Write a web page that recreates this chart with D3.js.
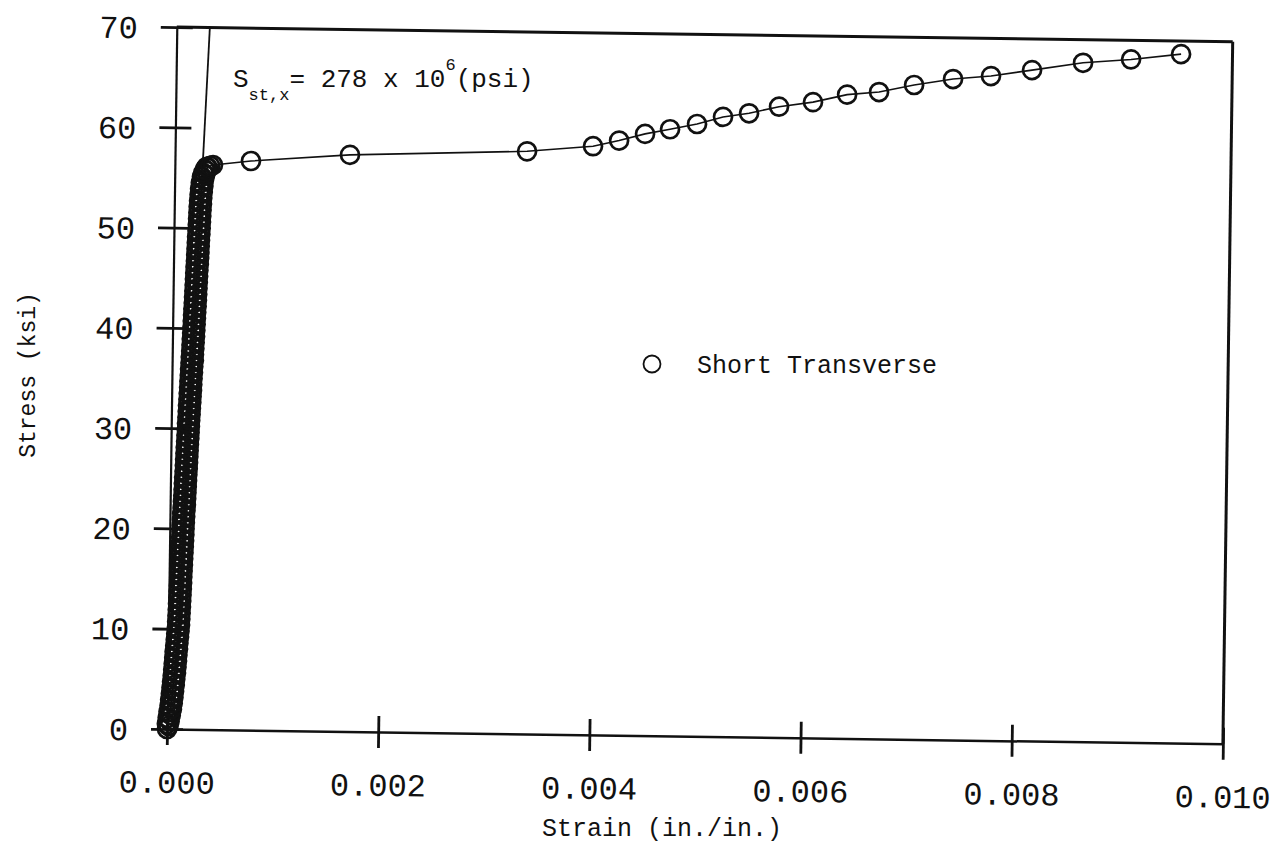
<!DOCTYPE html>
<html><head><meta charset="utf-8">
<script src="https://cdn.jsdelivr.net/npm/d3@7"></script>
<style>
body{margin:0;background:#fff}
svg{display:block}
text{font-family:"Liberation Mono","DejaVu Sans Mono",monospace;fill:#111}
</style>
</head><body>
<svg id="chart" width="1275" height="859"></svg>
<script>
// ---- data ----
const strainTicks = [0, 0.002, 0.004, 0.006, 0.008, 0.010];
const strainTickLabels = ["0.000", "0.002", "0.004", "0.006", "0.008", "0.010"];
const stressTicks = [0, 10, 20, 30, 40, 50, 60, 70];
const stressTickLabels = ["0", "10", "20", "30", "40", "50", "60", "70"];

// dense elastic portion (stress in ksi, strain in micro in./in.)
const denseStress = [0.0,0.3,0.5,0.8,1.1,1.4,1.7,2.0,2.3,2.6,2.9,3.2,3.5,3.8,4.1,4.4,4.7,5.0,5.3,5.6,5.9,6.2,6.5,6.8,7.1,7.4,7.7,8.0,8.3,8.6,8.9,9.2,9.5,9.8,10.1,10.4,10.7,11.0,11.3,11.6,11.9,12.2,12.5,12.8,13.1,13.4,13.7,14.0,14.3,14.6,14.9,15.2,15.5,15.8,16.1,16.4,16.7,17.0,17.3,17.6,17.9,18.2,18.5,18.8,19.1,19.4,19.7,20.0,20.3,20.6,20.9,21.2,21.5,21.8,22.1,22.4,22.7,23.0,23.3,23.6,23.9,24.2,24.5,24.8,25.1,25.4,25.7,26.0,26.3,26.6,26.9,27.2,27.5,27.8,28.1,28.4,28.7,29.0,29.3,29.6,29.9,30.2,30.5,30.8,31.1,31.4,31.7,32.0,32.3,32.6,32.9,33.2,33.5,33.8,34.1,34.4,34.7,35.0,35.3,35.6,35.9,36.2,36.5,36.8,37.1,37.4,37.7,38.0,38.3,38.6,38.9,39.2,39.5,39.8,40.1,40.4,40.7,41.0,41.3,41.6,41.9,42.2,42.5,42.8,43.1,43.4,43.7,44.0,44.3,44.6,44.9,45.2,45.5,45.8,46.1,46.4,46.7,47.0,47.3,47.6,47.9,48.2,48.5,48.8,49.1,49.4,49.7,50.0,50.3,50.6,50.9,51.2,51.5,51.8,52.1,52.4,52.7,53.0,53.3,53.6,53.9,54.2,54.5,54.8,55.1,55.3,55.5,55.7,55.85,56.0,56.1,56.2];
const denseMicroStrain = [0,14,-2,24,5,34,12,44,21,51,26,57,32,62,37,68,42,72,47,78,51,82,55,86,59,89,62,94,67,97,71,102,75,106,80,110,82,112,84,114,86,116,88,118,90,120,92,122,94,124,96,125,97,127,99,129,101,131,103,133,105,135,107,137,109,139,111,140,112,142,114,144,116,146,119,149,121,151,123,153,125,155,127,157,129,159,132,162,134,164,136,166,138,168,140,170,143,173,145,175,147,177,149,179,152,182,154,184,156,187,159,189,161,192,164,194,166,196,169,199,171,201,174,206,176,206,179,209,181,211,183,214,186,216,188,218,190,220,192,222,194,225,197,227,199,229,201,231,203,233,205,235,207,237,209,240,212,242,214,244,216,246,218,248,220,251,223,253,225,255,227,257,229,259,231,262,234,264,238,268,242,273,248,278,258,288,270,300,285,315,300,335];

// plastic portion (strain in./in., stress ksi)
const plasticStrain = [0.000361,0.000720,0.001657,0.003333,0.003957,0.004203,0.004448,0.004684,0.004939,0.005184,0.005430,0.005713,0.006034,0.006356,0.006658,0.006989,0.007357,0.007716,0.008104,0.008586,0.009040,0.009513];
const plasticStress = [56.3,56.75,57.5,58.1,58.7,59.3,60.0,60.5,61.06,61.8,62.2,62.9,63.4,64.2,64.5,65.25,65.9,66.25,66.9,67.7,68.1,68.7];

// modulus line S_st,x
const modulusStrain = [0.000061, 0.000313];
const modulusStress = [0, 70];

const seriesName = "Short Transverse";

// ---- build points ----
const points = denseStress.map((s, i) => [denseMicroStrain[i] / 1e6, s])
  .concat(plasticStrain.map((e, i) => [e, plasticStress[i]]));

const svg = d3.select("#chart");
const x = d3.scaleLinear().domain([0, 0.010]).range([167, 1223]);
const y = d3.scaleLinear().domain([0, 70]).range([729, 27]);
const ink = "#111";

const g = svg.append("g").attr("transform", "rotate(0.8,167,729)");

// frame (top and right)
g.append("line").attr("x1", x(0)).attr("x2", x(0.010)).attr("y1", y(70)).attr("y2", y(70))
  .attr("stroke", ink).attr("stroke-width", 3);
g.append("line").attr("x1", x(0.010)).attr("x2", x(0.010)).attr("y1", y(0)).attr("y2", y(70))
  .attr("stroke", ink).attr("stroke-width", 3);

// x axis
const xAxis = d3.axisBottom(x).tickValues(strainTicks)
  .tickFormat((d, i) => strainTickLabels[i]).tickSize(16).tickSizeOuter(0);
const gx = g.append("g").attr("transform", `translate(0,${y(0)})`).call(xAxis)
  .attr("font-family", null).attr("font-size", null);
gx.select(".domain").attr("stroke", ink).attr("stroke-width", 2.5);
gx.selectAll(".tick line").attr("y1", -16).attr("stroke", ink).attr("stroke-width", 2.8);
gx.selectAll(".tick text").attr("y", 64).attr("dy", 0).attr("font-size", 32).attr("fill", ink);

// y axis
const yAxis = d3.axisLeft(y).tickValues(stressTicks)
  .tickFormat((d, i) => stressTickLabels[i]).tickSize(16).tickSizeOuter(0);
const gy = g.append("g").attr("transform", `translate(${x(0)},0)`).call(yAxis)
  .attr("font-family", null).attr("font-size", null);
gy.select(".domain").attr("stroke", ink).attr("stroke-width", 2.2);
gy.selectAll(".tick line").attr("x1", 16).attr("stroke", ink).attr("stroke-width", 2.8);
gy.selectAll(".tick text").attr("x", -39).attr("dy", "0.35em").attr("font-size", 32).attr("fill", ink);

// modulus line
g.append("line")
  .attr("x1", x(modulusStrain[0])).attr("y1", y(modulusStress[0]))
  .attr("x2", x(modulusStrain[1])).attr("y2", y(modulusStress[1]))
  .attr("stroke", ink).attr("stroke-width", 1.8);

// data line
g.append("path").datum(points)
  .attr("d", d3.line().x(d => x(d[0])).y(d => y(d[1])))
  .attr("fill", "none").attr("stroke", ink).attr("stroke-width", 1.6);

// markers
g.append("g").selectAll("circle").data(points).join("circle")
  .attr("cx", d => x(d[0])).attr("cy", d => y(d[1])).attr("r", 9)
  .attr("fill", "none").attr("stroke", ink).attr("stroke-width", 2.7);

// annotation
const ann = svg.append("text").attr("x", 233).attr("y", 87).attr("font-size", 26);
ann.append("tspan").text("S");
ann.append("tspan").attr("font-size", 17).attr("dy", 13).text("st,x");
ann.append("tspan").attr("dy", -13).text("= 278 x 10");
ann.append("tspan").attr("font-size", 17).attr("dy", -17).text("6");
ann.append("tspan").attr("dy", 17).text("(psi)");

// legend
svg.append("circle").attr("cx", 652).attr("cy", 364).attr("r", 8.5)
  .attr("fill", "none").attr("stroke", ink).attr("stroke-width", 1.8);
svg.append("text").attr("x", 697).attr("y", 373).attr("font-size", 25).text(seriesName);

// axis titles
svg.append("text").attr("x", 662).attr("y", 836).attr("text-anchor", "middle")
  .attr("font-size", 25).text("Strain (in./in.)");
svg.append("text").attr("transform", "translate(35,375) rotate(-90)").attr("text-anchor", "middle")
  .attr("font-size", 23).text("Stress (ksi)");
</script>
</body></html>
